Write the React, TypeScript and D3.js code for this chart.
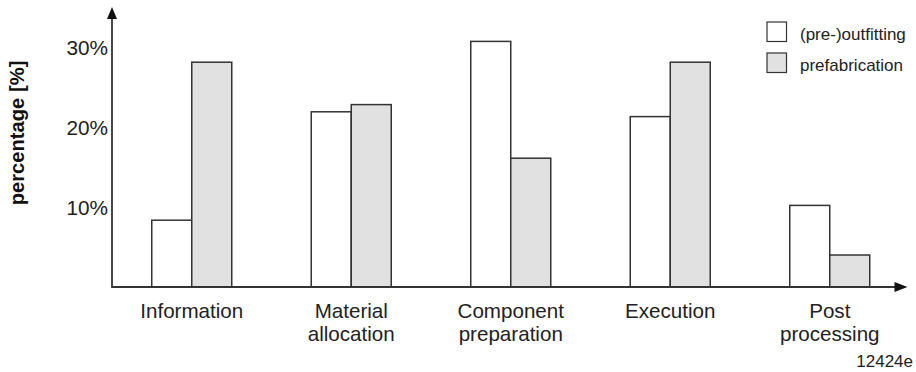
import React from "react";
import * as d3 from "d3";

const categories: string[][] = [
  ["Information"],
  ["Material", "allocation"],
  ["Component", "preparation"],
  ["Execution"],
  ["Post", "processing"],
];
const seriesNames = ["(pre-)outfitting", "prefabrication"];
const preOutfitting = [8.35, 21.9, 30.7, 21.3, 10.2];
const prefabrication = [28.1, 22.8, 16.1, 28.1, 4.0];
const yTicks = [10, 20, 30];
const yTickLabels = ["10%", "20%", "30%"];
const yTitle = "percentage [%]";
const note = "12424e";

const W = 916;
const H = 372;
const FONT = "'Liberation Sans', Arial, Helvetica, sans-serif";
const STROKE = "#333";
const FILLS = ["#ffffff", "#e1e1e1"];

export default function App() {
  const x0Left = 112;
  const x0Right = 909.5;
  const yBase = 287;
  const yTop = 7;
  const catKeys = categories.map((c) => c.join(" "));
  const x0 = d3.scaleBand<string>().domain(catKeys).range([x0Left, x0Right]).paddingInner(0).paddingOuter(0);
  const barW = 40;
  const bw = x0.bandwidth();
  const x1 = d3
    .scaleBand<string>()
    .domain(seriesNames)
    .range([bw / 2 - barW, bw / 2 + barW])
    .paddingInner(0)
    .paddingOuter(0);
  const y = d3.scaleLinear().domain([0, 35]).range([yBase, yTop]);
  const data = [preOutfitting, prefabrication];

  return (
    <svg width={W} height={H} style={{ position: "absolute", left: 0, top: 0, background: "#fff" }}>
      <rect x={0} y={0} width={W} height={H} fill="#fff" />
      {/* bars */}
      {catKeys.map((ck, i) => (
        <g key={ck} transform={`translate(${x0(ck)},0)`}>
          {seriesNames.map((s, j) => {
            const v = data[j][i];
            return (
              <rect
                key={s}
                x={x1(s)!}
                y={y(v)}
                width={x1.bandwidth()}
                height={yBase - y(v)}
                fill={FILLS[j]}
                stroke={STROKE}
                strokeWidth={1.5}
              />
            );
          })}
        </g>
      ))}
      {/* axes */}
      <line x1={x0Left} y1={yBase} x2={x0Right - 10} y2={yBase} stroke={STROKE} strokeWidth={1.8} />
      <path d={`M${x0Right - 2},${yBase} L${x0Right - 15},${yBase - 5} L${x0Right - 15},${yBase + 5} Z`} fill="#111" />
      <line x1={x0Left} y1={yBase + 1} x2={x0Left} y2={yTop + 8} stroke={STROKE} strokeWidth={1.8} />
      <path d={`M${x0Left},${yTop} L${x0Left - 5},${yTop + 12} L${x0Left + 5},${yTop + 12} Z`} fill="#111" />
      {/* y ticks */}
      {yTicks.map((t, i) => (
        <text
          key={t}
          x={x0Left - 4}
          y={y(t)}
          dy="0.38em"
          textAnchor="end"
          fontFamily={FONT}
          fontSize={20.8}
          fill="#222"
        >
          {yTickLabels[i]}
        </text>
      ))}
      {/* y title */}
      <text
        transform={`translate(24,133) rotate(-90)`}
        textAnchor="middle"
        fontFamily={FONT}
        fontSize={20.2}
        fontWeight="bold"
        fill="#111"
      >
        {yTitle}
      </text>
      {/* category labels */}
      {categories.map((lines, i) => (
        <text
          key={catKeys[i]}
          x={x0(catKeys[i])! + bw / 2}
          y={318}
          textAnchor="middle"
          fontFamily={FONT}
          fontSize={20.6}
          fill="#222"
        >
          {lines.map((l, k) => (
            <tspan key={k} x={x0(catKeys[i])! + bw / 2} dy={k === 0 ? 0 : 23}>
              {l}
            </tspan>
          ))}
        </text>
      ))}
      {/* legend */}
      {seriesNames.map((s, j) => (
        <g key={s} transform={`translate(767,${22 + j * 31})`}>
          <rect x={0} y={0} width={19.5} height={19.5} fill={FILLS[j]} stroke={STROKE} strokeWidth={1.2} />
          <text x={33} y={17.5} fontFamily={FONT} fontSize={17} fill="#222">
            {s}
          </text>
        </g>
      ))}
      {/* note */}
      <text x={913} y={367} textAnchor="end" fontFamily={FONT} fontSize={17} fill="#222">
        {note}
      </text>
    </svg>
  );
}
